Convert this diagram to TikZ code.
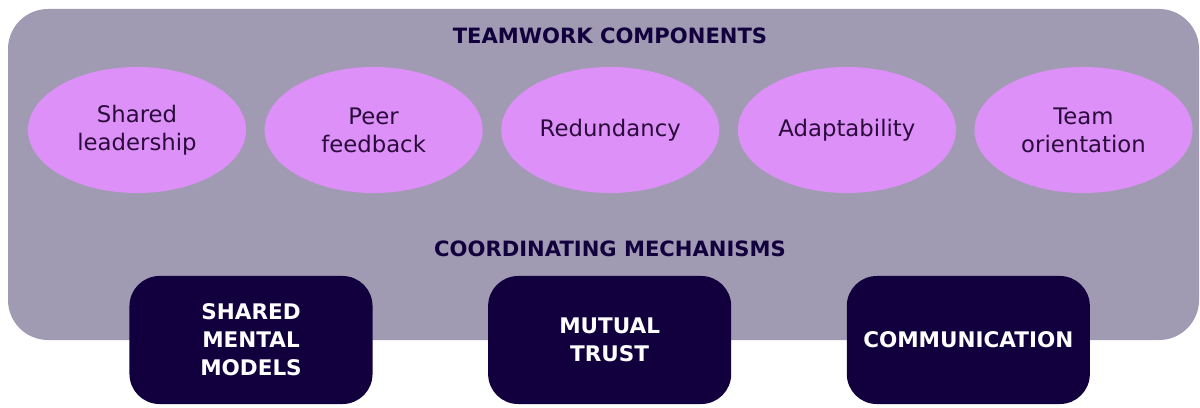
\documentclass[tikz,border=0pt]{standalone}
\usepackage{fontspec}
\setmainfont{DejaVu Sans}
\usepackage{tikz}
\usetikzlibrary{positioning,shapes.geometric}
\definecolor{panelGrey}{HTML}{A09BB2}
\definecolor{lilac}{HTML}{DD90F7}
\definecolor{inkPurple}{HTML}{2A0B3C}
\definecolor{navyDeep}{HTML}{12003E}

\begin{document}
\begin{tikzpicture}[x=0.025cm,y=-0.025cm,node distance=0.45cm,
    comp/.style={ellipse,fill=lilac,text=inkPurple,align=center,inner sep=0pt,
      minimum width=5.45cm,minimum height=3.15cm,font=\fontsize{16.2}{20}\selectfont},
    mech/.style={fill=navyDeep,text=white,align=center,rounded corners=0.75cm,
      minimum width=6.075cm,minimum height=3.2cm,font=\fontsize{15.3}{20}\selectfont\bfseries},
    heading/.style={text=navyDeep,font=\fontsize{15}{18}\selectfont\bfseries}]
  \useasboundingbox (0,0) rectangle (1200,407);
  % background panel
  \fill[panelGrey,rounded corners=1cm] (8,9) rectangle (1199,340);
  \node[heading] (tcTitle) at (610,36) {TEAMWORK COMPONENTS};
  \node[heading] (cmTitle) at (610,249) {COORDINATING MECHANISMS};
  % teamwork components
  \node[comp] (lead) at (137,130) {Shared\\leadership};
  \node[comp,right=of lead] (peer) {Peer\\feedback};
  \node[comp,right=of peer] (redund) {Redundancy};
  \node[comp,right=of redund] (adapt) {Adaptability};
  \node[comp,right=of adapt] (orient) {Team\\orientation};
  % coordinating mechanisms
  \node[mech] (models) at (251,340) {SHARED\\MENTAL\\MODELS};
  \node[mech,right=2.875cm of models] (trust) {MUTUAL\\TRUST};
  \node[mech,right=2.875cm of trust] (comm) {COMMUNICATION};
\end{tikzpicture}
\end{document}
